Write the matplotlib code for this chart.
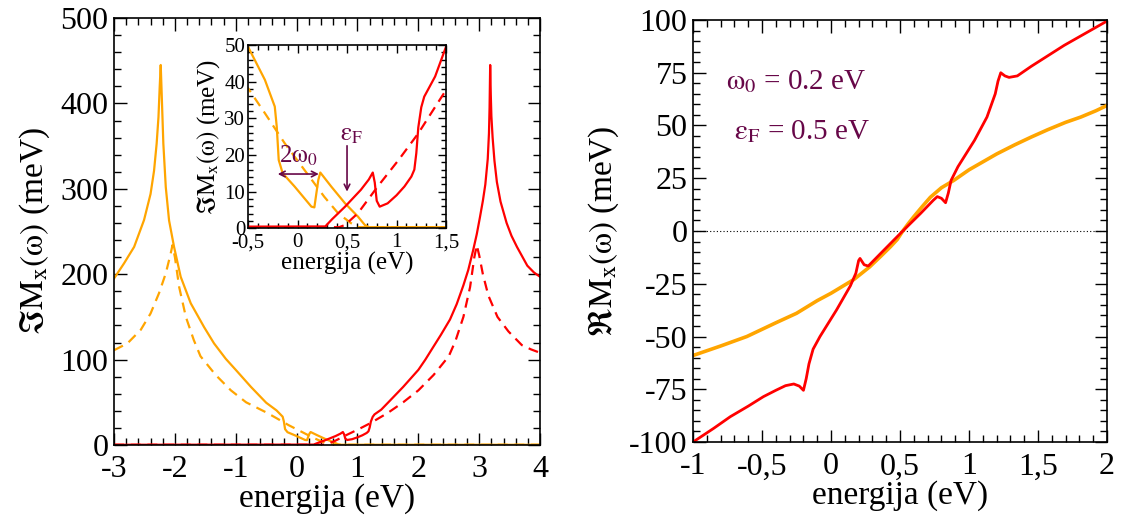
import numpy as np
import matplotlib
matplotlib.use("Agg")
import matplotlib.pyplot as plt
from matplotlib.ticker import MultipleLocator, FuncFormatter

plt.rcParams['font.family'] = ['Liberation Serif', 'DejaVu Serif']
plt.rcParams['mathtext.fontset'] = 'stix'
plt.rcParams['axes.unicode_minus'] = False

# Im M_x, puna linija (crvena) i isprekidana
im_red_x = [-3.0, 0.28, 0.35, 0.48, 0.64, 0.72, 0.76, 0.78, 0.80, 0.83, 0.91, 1.0, 1.08, 1.15, 1.18,
            1.20, 1.22, 1.25, 1.28, 1.39, 1.5, 1.75, 2.0, 2.115, 2.22, 2.37, 2.52, 2.63, 2.74,
            2.82, 2.90, 2.96, 3.01, 3.06, 3.10, 3.14, 3.16, 3.17, 3.18, 3.19, 3.20, 3.22,
            3.25, 3.29, 3.35, 3.45, 3.53, 3.62, 3.79, 3.9, 4.0]
im_red_y = [0.3, 0.5, 2.5, 5.9, 10.5, 13.3, 15.2, 12.5, 7.5, 5.9, 6.8, 9.0, 11.4, 14.1, 16.0,
            20.5, 27.5, 33.0, 35.9, 41.4, 49.5, 68, 88, 100, 112, 129, 147, 165, 187,
            205, 228, 247, 266, 286, 305, 335, 365, 395, 445, 410, 385, 360,
            333, 308, 285, 260, 245, 232, 210, 202, 197]

im_red_d_x = [-3.0, 0.42, 0.48, 0.61, 0.81, 1.02, 1.22, 1.35, 1.5, 1.75, 2.0, 2.25, 2.5, 2.61,
              2.74, 2.85, 2.92, 2.96, 3.0, 3.06, 3.15, 3.3, 3.48, 3.7, 3.85, 4.0]
im_red_d_y = [0.3, 0.3, 0.9, 4.1, 11.4, 18.6, 25.9, 31.4, 37.7, 50, 64, 82, 104, 122,
              150, 185, 220, 234, 222, 200, 175, 150, 133, 117, 112, 108]

im_or_x = [-3.0, -2.836, -2.67, -2.507, -2.40, -2.343, -2.30, -2.27, -2.25, -2.233, -2.217,
           -2.19, -2.15, -2.096, -2.014, -1.905, -1.74, -1.52, -1.357, -1.165, -1.0, -0.75,
           -0.5, -0.33, -0.23, -0.21, -0.19, -0.15, -0.03, 0.14, 0.17, 0.19, 0.21, 0.23,
           0.34, 0.48, 0.61, 0.68, 0.72, 4.0]
im_or_y = [195, 212.7, 232, 263.5, 294, 321, 353, 384, 419, 445, 411,
           353, 302, 263, 232, 197, 166, 138, 119, 101, 88, 68,
           49.5, 40.5, 33.2, 27.7, 18.6, 15.0, 11.4, 5.9, 5.7, 9.5, 13.2, 15.2,
           11.4, 6.8, 3.2, 0.9, 0.3, 0.3]

im_or_d_x = [-3.0, -2.78, -2.56, -2.40, -2.26, -2.15, -2.07, -2.04, -2.0, -1.93, -1.82, -1.69,
             -1.58, -1.33, -1.08, -0.83, -0.5, -0.33, -0.13, 0.07, 0.27, 0.41, 0.54, 0.62, 4.0]
im_or_d_y = [111, 119, 135, 154, 178, 201, 224, 234, 220, 185, 150, 123,
             104, 82, 64, 50, 38.2, 31.4, 23.2, 15.9, 8.6, 4.1, 1.4, 0.3, 0.3]

# Re M_x
re_red_x = [-1.0, -0.85, -0.73, -0.6, -0.49, -0.4, -0.33, -0.27, -0.23, -0.2, -0.18, -0.16,
            -0.13, -0.08, 0.04, 0.14, 0.18, 0.2, 0.21, 0.24, 0.27, 0.36, 0.52, 0.65, 0.74,
            0.77, 0.8, 0.83, 0.85, 0.87, 0.92, 1.04, 1.13, 1.19, 1.21, 1.23, 1.26, 1.29,
            1.35, 1.45, 1.69, 2.0]
re_red_y = [-100, -93.5, -88, -83, -78.5, -75.5, -73.3, -72.5, -73.5, -75.5, -70, -63,
            -56, -50, -37.4, -26, -20, -14, -13, -16, -16.6, -10.6, 0, 8.4, 14.5,
            16.3, 15.5, 13.4, 18, 24, 30.5, 43, 54, 65, 71, 75, 73.5, 72.8,
            73.5, 78, 88, 99.5]

re_or_x = [-1.0, -0.8, -0.61, -0.4, -0.25, -0.1, 0.0, 0.165, 0.28, 0.36, 0.43, 0.48, 0.52,
           0.56, 0.6, 0.66, 0.72, 0.8, 0.89, 1.0, 1.08, 1.2, 1.33, 1.45, 1.57, 1.7, 1.81,
           1.92, 2.0]
re_or_y = [-59, -54.5, -50, -43.5, -39, -33, -29.5, -23, -17, -12, -7.5, -4, 0,
           3.5, 6.8, 11.5, 16, 20.5, 24, 29, 32, 36.5, 40.8, 44.5, 48, 51.5, 54,
           57, 59.5]

orange = '#FFA500'
red = '#FF0000'
maroon = '#670748'


def comma(v, pos):
    s = '%g' % v
    return s.replace('.', ',')


def style(ax, xmaj, xmin, ymaj, ymin, size, big=True):
    ax.xaxis.set_major_locator(MultipleLocator(xmaj))
    ax.xaxis.set_minor_locator(MultipleLocator(xmin))
    ax.yaxis.set_major_locator(MultipleLocator(ymaj))
    ax.yaxis.set_minor_locator(MultipleLocator(ymin))
    ax.xaxis.set_major_formatter(FuncFormatter(comma))
    ax.yaxis.set_major_formatter(FuncFormatter(comma))
    ml, mn = (9, 5) if big else (6, 3.5)
    ax.tick_params(which='both', direction='in', top=True, right=True, labelsize=size, pad=4)
    ax.tick_params(which='major', length=ml, width=1)
    ax.tick_params(which='minor', length=mn, width=1)
    for s in ax.spines.values():
        s.set_linewidth(1.2)


fig = plt.figure(figsize=(11.28, 5.18), dpi=100)

ylab_im = r'$\Im\mathrm{M}_\mathrm{x}(\mathrm{\omega})$ (meV)'
ylab_re = r'$\Re\mathrm{M}_\mathrm{x}(\mathrm{\omega})$ (meV)'

# lijevi panel
ax1 = fig.add_axes([0.1011, 0.1409, 0.3777, 0.8243])
ax1.plot(im_or_x, im_or_y, color=orange, lw=1.6)
ax1.plot(im_or_d_x, im_or_d_y, color=orange, lw=1.6, dashes=(4.5, 3))
ax1.plot(im_red_x, im_red_y, color=red, lw=1.6)
ax1.plot(im_red_d_x, im_red_d_y, color=red, lw=1.6, dashes=(4.5, 3))
ax1.set_xlim(-3, 4)
ax1.set_ylim(0, 500)
style(ax1, 1, 0.2, 100, 20, 23)
ax1.tick_params(axis='x', pad=7.5)
ax1.set_xlabel('energija (eV)', fontsize=24, labelpad=-1)
ax1.set_ylabel(ylab_im, fontsize=24, labelpad=6)

# umetak
ax_in = fig.add_axes([0.2199, 0.5593, 0.1755, 0.3539])
ax_in.plot(im_or_x, im_or_y, color=orange, lw=1.6)
ax_in.plot(im_or_d_x, im_or_d_y, color=orange, lw=1.6, dashes=(4.5, 3))
ax_in.plot(im_red_x, im_red_y, color=red, lw=1.6)
ax_in.plot(im_red_d_x, im_red_d_y, color=red, lw=1.6, dashes=(4.5, 3))
ax_in.set_xlim(-0.5, 1.5)
ax_in.set_ylim(0, 50)
style(ax_in, 0.5, 0.1, 10, 2, 15, big=False)
ax_in.tick_params(axis='y', pad=2)
ax_in.tick_params(axis='x', pad=3.5)
ax_in.set_xlabel('energija (eV)', fontsize=18, labelpad=0)
ax_in.set_ylabel(ylab_im, fontsize=18, labelpad=2)
ax_in.annotate('', xy=(-0.2, 14.8), xytext=(0.215, 14.8),
               arrowprops=dict(arrowstyle='<->', color=maroon, lw=1.2, shrinkA=0, shrinkB=0))
ax_in.text(-0.19, 18, r'2$\mathrm{\omega_0}$', color=maroon, fontsize=18)
ax_in.annotate('', xy=(0.5, 10), xytext=(0.5, 22.5),
               arrowprops=dict(arrowstyle='->', color=maroon, lw=1.2, shrinkA=0, shrinkB=0))
ax_in.text(0.43, 24, r'$\mathrm{\epsilon_F}$', color=maroon, fontsize=18)

# desni panel
ax2 = fig.add_axes([0.6144, 0.1467, 0.367, 0.8147])
ax2.axhline(0, color='k', lw=0.8, ls=(0, (1, 2)))
ax2.plot(re_or_x, re_or_y, color=orange, lw=2.6)
ax2.plot(re_red_x, re_red_y, color=red, lw=2.0)
ax2.set_xlim(-1, 2)
ax2.set_ylim(-100, 100)
style(ax2, 0.5, 0.1, 25, 5, 23)
ax2.tick_params(axis='x', pad=7.5)
ax2.set_xlabel('energija (eV)', fontsize=24, labelpad=-1)
ax2.set_ylabel(ylab_re, fontsize=24, labelpad=6)
ax2.text(-0.76, 71, r'$\mathrm{\omega_0}$ = 0.2 eV', color=maroon, fontsize=21, va='center')
ax2.text(-0.7, 47, r'$\mathrm{\epsilon_F}$ = 0.5 eV', color=maroon, fontsize=21, va='center')

fig.savefig('out.png', dpi=100)
